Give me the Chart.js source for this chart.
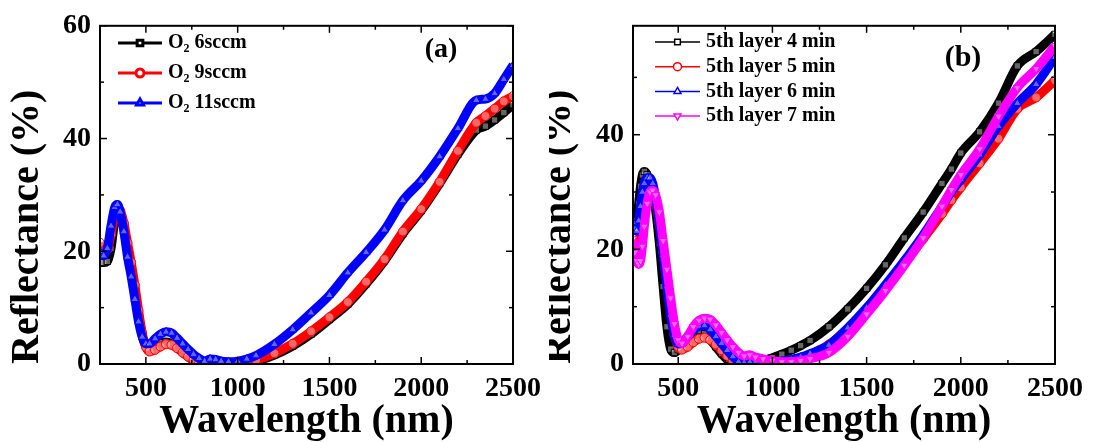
<!DOCTYPE html>
<html lang="en">
<head>
  <meta charset="UTF-8">
  <title>Reflectance</title>
  <script src="https://cdn.jsdelivr.net/npm/chart.js"></script>
  <style>
    body { margin: 0; background: #fff; }
    .panel { position: absolute; top: 0; width: 549px; height: 442px; }
  </style>
</head>
<body>
  <div class="panel" style="left:0"><canvas id="chartA"></canvas></div>
  <div class="panel" style="left:549px"><canvas id="chartB"></canvas></div>

  <script>
    // ---- panel (a) ----
    const wavelengthA = [250, 270, 290, 310, 330, 345, 360, 380, 400, 420, 440, 460, 480, 500, 520, 550, 580, 610, 640, 670,
      700, 730, 760, 790, 820, 850, 880, 910, 950, 1000, 1050, 1100, 1200, 1300, 1400, 1500, 1600, 1700, 1800, 1900,
      2000, 2100, 2200, 2300, 2350, 2400, 2450, 2500];
    const o2_6 = [18.0, 18.0, 18.2, 20.5, 25.3, 27.0, 26.5, 24.0, 20.5, 17.0, 13.0, 8.8, 5.0, 3.2, 3.0, 3.4, 3.8, 3.9, 3.6, 2.9,
      2.1, 1.3, 0.6, 0.2, 0.0, 0.0, 0.0, 0.0, 0.0, 0.0, 0.2, 0.5, 1.6, 3.2, 5.3, 7.9, 10.6, 14.2, 18.3, 23.1,
      27.2, 32.0, 37.2, 41.5, 42.2, 43.3, 44.6, 46.0];
    const o2_9 = [21.5, 20.0, 20.3, 23.0, 26.3, 27.3, 27.2, 25.0, 21.5, 18.0, 14.0, 9.5, 5.5, 3.0, 2.2, 2.5, 3.1, 3.5, 3.4, 2.8,
      2.0, 1.3, 0.7, 0.2, 0.0, 0.0, 0.0, 0.0, 0.0, 0.1, 0.3, 0.7, 1.9, 3.6, 5.8, 8.3, 11.0, 14.6, 18.6, 23.5,
      27.5, 32.3, 37.8, 42.8, 44.0, 45.3, 46.6, 47.5];
    const o2_11 = [20.0, 19.2, 20.5, 24.5, 27.8, 28.3, 27.0, 23.5, 19.0, 15.5, 11.5, 7.5, 4.8, 3.6, 3.6, 4.5, 5.3, 5.7, 5.5, 4.6,
      3.6, 2.6, 1.7, 1.0, 0.5, 0.9, 0.8, 0.5, 0.4, 0.5, 0.9, 1.5, 3.5, 6.1, 9.1, 12.2, 16.2, 19.8, 23.8, 29.0,
      32.5, 36.8, 41.8, 46.8, 47.0, 48.0, 50.5, 53.0];
    const labelsA = ['O₂ 6sccm', 'O₂ 9sccm', 'O₂ 11sccm'];

    // ---- panel (b) ----
    const wavelengthB = [260, 270, 280, 290, 300, 310, 320, 335, 350, 365, 380, 400, 420, 440, 460, 480, 500, 520, 550, 580,
      610, 640, 670, 700, 730, 760, 790, 820, 850, 880, 910, 950, 1000, 1050, 1100, 1150, 1200, 1300, 1400, 1500,
      1600, 1700, 1800, 1900, 1950, 2000, 2100, 2200, 2300, 2400, 2500];
    const layer4 = [25.0, 23.5, 24.5, 28.0, 31.0, 33.0, 33.6, 33.0, 31.0, 29.0, 26.8, 21.0, 13.5, 6.5, 2.6, 2.0, 2.5, 3.5, 4.8, 5.6,
      5.8, 5.3, 4.2, 3.0, 1.8, 0.8, 0.2, 0.0, 0.0, 0.1, 0.3, 0.6, 1.1, 1.7, 2.4, 3.2, 4.1, 6.5, 9.6, 13.2,
      17.3, 22.0, 26.5, 31.5, 34.0, 36.8, 40.5, 45.5, 52.0, 54.5, 57.5];
    const layer5 = [19.5, 18.5, 18.5, 20.5, 23.5, 26.5, 28.5, 30.0, 30.0, 29.5, 28.0, 24.5, 19.5, 14.0, 9.0, 5.0, 3.0, 2.5, 3.0, 3.8,
      4.4, 4.6, 4.2, 3.4, 2.4, 1.4, 0.6, 0.1, 0.0, 0.0, 0.0, 0.0, 0.1, 0.3, 0.6, 1.0, 1.6, 3.4, 6.2, 9.5,
      13.4, 17.5, 21.8, 26.2, 28.6, 30.8, 35.0, 39.3, 44.5, 46.5, 49.5];
    const layer6 = [24.7, 23.5, 23.2, 25.0, 27.5, 30.0, 31.5, 32.5, 32.5, 31.5, 29.0, 24.5, 19.0, 13.5, 8.5, 5.0, 3.5, 3.6, 4.8, 5.9,
      6.6, 6.7, 6.0, 4.8, 3.6, 2.4, 1.3, 0.4, 0.2, 0.3, 0.3, 0.2, 0.3, 0.5, 0.8, 1.2, 1.8, 3.3, 6.3, 9.8,
      13.8, 18.0, 22.5, 27.5, 30.0, 32.2, 36.5, 41.5, 45.5, 48.8, 53.5];
    const layer7 = [21.8, 19.5, 18.0, 17.4, 18.0, 20.5, 24.0, 28.0, 30.0, 30.3, 29.5, 26.5, 21.5, 16.5, 11.5, 7.0, 4.2, 3.6, 4.8, 6.5,
      7.6, 8.0, 7.8, 6.8, 5.5, 4.2, 3.0, 2.0, 1.4, 1.6, 1.2, 0.9, 0.6, 0.4, 0.4, 0.6, 0.9, 2.0, 4.8, 8.7,
      12.8, 17.2, 22.0, 27.5, 30.4, 33.0, 37.5, 43.2, 48.2, 51.5, 55.5];
    const labelsB = ['5th layer 4 min', '5th layer 5 min', '5th layer 6 min', '5th layer 7 min'];

    // ---- axes ----
    const xTicks = [500, 1000, 1500, 2000, 2500];
    const xMinor = [750, 1250, 1750, 2250];
    const yTicksA = [0, 20, 40, 60];
    const yTicksB = [0, 20, 40];
    const yMinor = [10, 30, 50];

    const FONT = '"Liberation Serif", "Times New Roman", serif';

    // ramka, wewnętrzne znaczniki, legenda i podpis panelu
    const decor = {
      id: 'decor',
      afterDatasetsDraw(chart, args, o) {
        const {ctx, chartArea: a, scales: {x, y}} = chart;
        ctx.save();
        ctx.strokeStyle = '#000';
        ctx.lineWidth = 2;
        ctx.strokeRect(a.left, a.top, a.right - a.left, a.bottom - a.top);
        ctx.lineWidth = 1.5;
        const line = (x1, y1, x2, y2) => { ctx.beginPath(); ctx.moveTo(x1, y1); ctx.lineTo(x2, y2); ctx.stroke(); };
        const xt = (v, len) => { const p = x.getPixelForValue(v); line(p, a.bottom, p, a.bottom - len); line(p, a.top, p, a.top + len); };
        const yt = (v, len) => { const p = y.getPixelForValue(v); line(a.left, p, a.left + len, p); line(a.right, p, a.right - len, p); };
        xTicks.forEach(v => xt(v, 7));
        xMinor.forEach(v => xt(v, 4));
        o.yTicks.forEach(v => yt(v, 7));
        yMinor.forEach(v => { if (v < y.max) yt(v, 4); });

        // legenda
        ctx.textBaseline = 'middle';
        chart.data.datasets.forEach((ds, i) => {
          const ry = o.legend.y + i * o.legend.gap;
          ctx.strokeStyle = ds.borderColor;
          ctx.lineWidth = o.legend.lineWidth;
          line(o.legend.x0, ry, o.legend.x1, ry);
          ctx.fillStyle = '#fff';
          Chart.helpers.drawPoint(ctx, {pointStyle: ds.pointStyle, radius: 4, rotation: ds.pointRotation || 0, borderWidth: 1.3},
            (o.legend.x0 + o.legend.x1) / 2, ry);
          ctx.fillStyle = '#000';
          drawLabel(ctx, ds.label, o.legend.tx, ry, 20);
        });

        ctx.font = `bold ${o.tag.size}px ${FONT}`;
        ctx.textAlign = 'center';
        ctx.fillText(o.tag.text, o.tag.x, o.tag.y);
        ctx.restore();
      }
    };

    function drawLabel(ctx, text, x, y, size) {
      ctx.textAlign = 'left';
      const parts = text.split('₂');
      ctx.font = `bold ${size}px ${FONT}`;
      if (parts.length === 1) { ctx.fillText(text, x, y); return; }
      ctx.fillText(parts[0], x, y);
      x += ctx.measureText(parts[0]).width;
      ctx.font = `bold ${Math.round(size * 0.6)}px ${FONT}`;
      ctx.fillText('2', x, y + size * 0.3);
      x += ctx.measureText('2').width;
      ctx.font = `bold ${size}px ${FONT}`;
      ctx.fillText(parts[1], x, y);
    }

    function series(label, wl, vals, color, style, order, rot) {
      return {
        label: label,
        data: wl.map((w, i) => ({x: w, y: vals[i]})),
        borderColor: color,
        borderWidth: 9,
        cubicInterpolationMode: 'monotone',
        pointStyle: style,
        pointRotation: rot || 0,
        pointRadius: 4.5,
        pointBorderWidth: 1,
        pointBorderColor: color,
        pointBackgroundColor: 'rgba(255,255,255,0.4)',
        clip: 0,
        order: order
      };
    }

    function makeChart(id, c) {
      return new Chart(document.getElementById(id), {
        type: 'line',
        data: { datasets: c.datasets },
        options: {
          responsive: true,
          maintainAspectRatio: false,
          animation: false,
          layout: { padding: c.padding },
          plugins: {
            legend: { display: false },
            tooltip: { enabled: false },
            decor: c.decor
          },
          scales: {
            x: {
              type: 'linear', min: c.xMin, max: 2500,
              afterBuildTicks: s => { s.ticks = xTicks.map(v => ({value: v})); },
              afterFit: s => { s.height = 78; },
              grid: { display: false, drawTicks: false },
              border: { display: false },
              ticks: { color: '#000', font: { family: FONT, size: 28, weight: 'bold' }, padding: 8, maxRotation: 0, autoSkip: false,
                callback: (v) => String(v) },
              title: { display: true, text: 'Wavelength (nm)', color: '#000',
                font: { family: FONT, size: 40, weight: 'bold', lineHeight: 0.5 }, padding: { top: 0, bottom: 10 } }
            },
            y: {
              min: 0, max: c.yMax,
              afterBuildTicks: s => { s.ticks = c.yTicks.map(v => ({value: v})); },
              afterFit: s => { s.width = c.yWidth; },
              grid: { display: false, drawTicks: false },
              border: { display: false },
              ticks: { color: '#000', font: { family: FONT, size: 28, weight: 'bold' }, padding: 9,
                callback: (v) => String(v) },
              title: { display: true, text: 'Reflectance (%)', color: '#000', align: 'start',
                font: { family: FONT, size: 40, weight: 'bold', lineHeight: 0.5 }, padding: { top: c.yTitlePad, bottom: 0 } }
            }
          }
        },
        plugins: [decor]
      });
    }

    makeChart('chartA', {
      xMin: 250, yMax: 60, yTicks: yTicksA, yWidth: 100, yTitlePad: 18,
      padding: { left: 0, right: 35, top: 21, bottom: 0 },
      datasets: [
        series(labelsA[0], wavelengthA, o2_6, '#000000', 'rect', 3),
        series(labelsA[1], wavelengthA, o2_9, '#ff0000', 'circle', 2),
        series(labelsA[2], wavelengthA, o2_11, '#0000ff', 'triangle', 1)
      ],
      decor: {
        yTicks: yTicksA,
        legend: { x0: 118, x1: 162, tx: 168, y: 43, gap: 30, lineWidth: 3 },
        tag: { text: '(a)', x: 441, y: 50, size: 28 }
      }
    });

    makeChart('chartB', {
      xMin: 260, yMax: 59, yTicks: yTicksB, yWidth: 84, yTitlePad: 1,
      padding: { left: 0, right: 43, top: 21, bottom: 0 },
      datasets: [
        series(labelsB[0], wavelengthB, layer4, '#000000', 'rect', 4),
        series(labelsB[1], wavelengthB, layer5, '#ff0000', 'circle', 3),
        series(labelsB[2], wavelengthB, layer6, '#0000ff', 'triangle', 2),
        series(labelsB[3], wavelengthB, layer7, '#ff00ff', 'triangle', 1, 180)
      ],
      decor: {
        yTicks: yTicksB,
        legend: { x0: 106, x1: 151, tx: 157, y: 42, gap: 24.7, lineWidth: 1.5 },
        tag: { text: '(b)', x: 414, y: 58, size: 30 }
      }
    });
  </script>
</body>
</html>
